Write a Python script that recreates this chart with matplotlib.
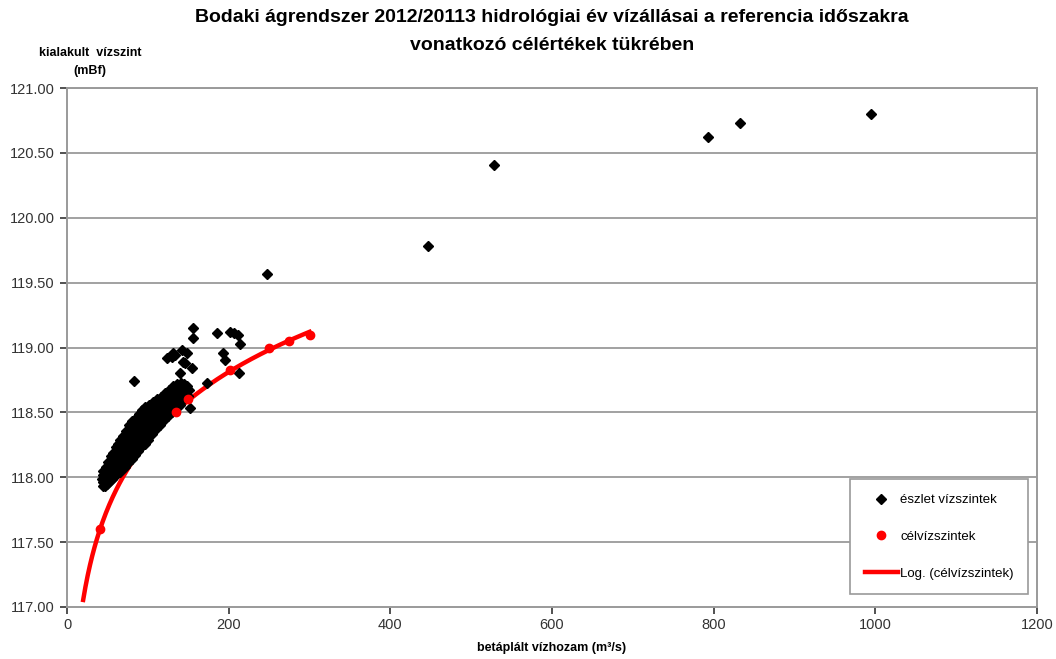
import numpy as np
import matplotlib
matplotlib.use("Agg")
import matplotlib.pyplot as plt

plt.rcParams['font.family'] = ['Liberation Sans', 'DejaVu Sans']

# ---- data ----
# observed water levels (black diamonds): x = inflow (m3/s), y = level (mBf)
obs_x = [44, 45, 43, 44, 45,
         47, 48, 46, 47, 48,
         50, 51, 49, 50, 51,
         53, 54, 52, 53, 54,
         56, 57, 55, 56, 57,
         59, 60, 58, 59, 60,
         62, 63, 61, 62, 63,
         65, 66, 64, 65, 66,
         68, 69, 67, 68, 69,
         72, 73, 71, 72, 73,
         76, 77, 75, 76, 77,
         80, 81, 79, 80, 81,
         84, 85, 83, 84, 85,
         88, 89, 87, 88, 89,
         92, 93, 91, 92, 93,
         96, 97, 95, 96, 97,
         100, 101, 99, 100, 101,
         105, 106, 104, 105, 106,
         110, 111, 109, 110, 111,
         115, 116, 114, 115, 116,
         120, 121, 119, 120, 121,
         125, 126, 124, 125, 126,
         130, 131, 129, 130, 131,
         135, 136, 134, 135, 136,
         140, 141, 139, 140, 141,
         145, 146, 144, 145,
         150, 151, 149,
         # scattered values
         83, 124, 130, 134, 131, 142, 148, 144, 146, 140, 155,
         156, 156, 186, 202, 206, 212, 214, 193, 196, 213, 152, 173,
         248, 446, 528, 793, 833, 995]
obs_y = [117.93, 117.96, 117.99, 118.02, 118.05,
         117.93, 117.97, 118.00, 118.04, 118.08,
         117.95, 117.99, 118.03, 118.08, 118.12,
         117.97, 118.02, 118.06, 118.11, 118.16,
         117.99, 118.04, 118.09, 118.14, 118.19,
         118.01, 118.06, 118.12, 118.17, 118.23,
         118.03, 118.09, 118.14, 118.20, 118.26,
         118.04, 118.10, 118.16, 118.23, 118.29,
         118.06, 118.13, 118.19, 118.26, 118.32,
         118.08, 118.15, 118.22, 118.29, 118.36,
         118.11, 118.18, 118.25, 118.33, 118.40,
         118.14, 118.21, 118.28, 118.36, 118.43,
         118.17, 118.24, 118.31, 118.39, 118.46,
         118.20, 118.27, 118.34, 118.42, 118.49,
         118.23, 118.30, 118.37, 118.45, 118.52,
         118.26, 118.33, 118.40, 118.47, 118.54,
         118.29, 118.36, 118.42, 118.49, 118.56,
         118.33, 118.39, 118.45, 118.52, 118.58,
         118.37, 118.43, 118.48, 118.54, 118.60,
         118.40, 118.46, 118.51, 118.57, 118.62,
         118.44, 118.49, 118.54, 118.60, 118.65,
         118.47, 118.52, 118.57, 118.62, 118.67,
         118.50, 118.55, 118.60, 118.65, 118.70,
         118.53, 118.58, 118.63, 118.68, 118.72,
         118.56, 118.61, 118.65, 118.69, 118.73,
         118.60, 118.64, 118.68, 118.72,
         118.63, 118.67, 118.70,
         118.74, 118.92, 118.93, 118.94, 118.96, 118.98, 118.96, 118.89, 118.88, 118.80, 118.84,
         119.15, 119.07, 119.11, 119.12, 119.11, 119.10, 119.03, 118.96, 118.90, 118.80, 118.53, 118.73,
         119.57, 119.78, 120.41, 120.62, 120.73, 120.80]

# target levels (red circles)
target_x = [41, 135, 150, 202, 250, 275, 300]
target_y = [117.60, 118.50, 118.60, 118.83, 119.00, 119.05, 119.10]

x_ticks = [0, 200, 400, 600, 800, 1000, 1200]
y_ticks = [117.0, 117.5, 118.0, 118.5, 119.0, 119.5, 120.0, 120.5, 121.0]

# ---- logarithmic trendline fitted to the target levels ----
coef = np.polyfit(np.log(target_x), target_y, 1)
trend_x = np.linspace(20, 300, 200)
trend_y = coef[0] * np.log(trend_x) + coef[1]

fig = plt.figure(figsize=(10.56, 6.59), dpi=100)
ax = fig.add_axes([67 / 1056, 1 - 607 / 659, 970 / 1056, 519 / 659])

grid_c = '#9a9a9a'
for yv in y_ticks[1:]:
    ax.axhline(yv, color=grid_c, lw=1.3, zorder=0)

ax.plot(trend_x, trend_y, color='#ff0000', lw=3.2, zorder=2, label='Log. (célvízszintek)')
ax.plot(obs_x, obs_y, ls='none', marker='D', ms=4.6, color='black', mec='black', zorder=3,
        label='észlet vízszintek')
ax.plot(target_x, target_y, ls='none', marker='o', ms=6, color='#ff0000', zorder=4,
        label='célvízszintek')

ax.set_xlim(0, 1200)
ax.set_ylim(117, 121)
ax.set_xticks(x_ticks)
ax.set_xticklabels([str(v) for v in x_ticks])
ax.set_yticks(y_ticks)
ax.set_yticklabels([f'{v:.2f}' for v in y_ticks])
ax.tick_params(axis='both', colors='#333333', labelsize=10.5, length=5, width=1.2, direction='out')
ax.tick_params(axis='x', pad=3)
ax.tick_params(axis='y', pad=4)
for side in ['left', 'bottom', 'right', 'top']:
    ax.spines[side].set_color(grid_c)
    ax.spines[side].set_linewidth(1.4)

fig.text(552 / 1056, 1 - 18 / 659, 'Bodaki ágrendszer 2012/20113 hidrológiai év vízállásai a referencia időszakra',
         ha='center', va='center', fontsize=14, fontweight='bold')
fig.text(552 / 1056, 1 - 45 / 659, 'vonatkozó célértékek tükrében',
         ha='center', va='center', fontsize=14, fontweight='bold')
fig.text(90 / 1056, 1 - 62 / 659, 'kialakult  vízszint\n(mBf)', ha='center', va='center',
         fontsize=9, fontweight='bold', linespacing=1.6)
fig.text(552 / 1056, 1 - 648 / 659, 'betáplált vízhozam (m³/s)', ha='center', va='center',
         fontsize=9, fontweight='bold')

handles, labels = ax.get_legend_handles_labels()
order = [1, 2, 0]
leg = ax.legend([handles[i] for i in order], [labels[i] for i in order],
                loc='lower right', bbox_to_anchor=(0.991, 0.025), borderaxespad=0,
                fontsize=9.5, labelspacing=1.85, handlelength=2.5, handletextpad=0.2,
                borderpad=1.1, fancybox=False, framealpha=1, edgecolor=grid_c)
leg.get_frame().set_linewidth(1.2)

fig.savefig('out.png', dpi=100)
